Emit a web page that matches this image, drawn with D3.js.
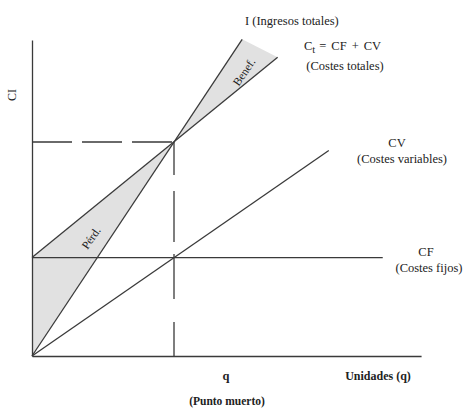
<!DOCTYPE html>
<html><head><meta charset="utf-8">
<script src="https://cdn.jsdelivr.net/npm/d3@7"></script>
<style>
html,body{margin:0;padding:0;background:#fff;}
text{font-family:"Liberation Serif","DejaVu Serif",serif;fill:#222;}
</style></head>
<body>
<svg id="c" width="464" height="408"></svg>
<script>
// Data (units: quantity q, money CI); break-even at q=10, CI=100
const xMax = 27.4, yMax = 147.7;
const breakEven = {q: 10, v: 100};
const incomeLine = [[0, 0], [14.8, 148]];          // I
const totalCostLine = [[0, 46], [17.3, 139.6]];    // Ct = CF + CV
const variableCostLine = [[0, 0], [20.9, 96]];     // CV
const fixedCostLine = [[0, 46], [24.7, 46]];       // CF
const profitArea = [[10, 100], [14.8, 148], [17.3, 139.6]];
const lossArea = [[0, 46], [10, 100], [0, 0]];

const svg = d3.select("#c");
const x = d3.scaleLinear().domain([0, 10]).range([32, 174]);
const y = d3.scaleLinear().domain([0, 100]).range([356, 142]);
const stroke = "#3a3a3a";

const line = d3.line().x(d => x(d[0])).y(d => y(d[1]));

// shaded areas
svg.append("path").attr("d", line(profitArea) + "Z").attr("fill", "#e1e1e1");
svg.append("path").attr("d", line(lossArea) + "Z").attr("fill", "#e1e1e1");

// axes
const xAxisScale = x.copy().domain([0, xMax]).range([x(0), x(xMax)]);
const yAxisScale = y.copy().domain([0, yMax]).range([y(0), y(yMax)]);
svg.append("g").attr("transform", `translate(0,${y(0)})`)
  .call(d3.axisBottom(xAxisScale).tickValues([]).tickSizeOuter(0));
svg.append("g").attr("transform", `translate(${x(0)},0)`)
  .call(d3.axisLeft(yAxisScale).tickValues([]).tickSizeOuter(0));
svg.selectAll(".domain").attr("stroke", stroke).attr("stroke-width", 1.3);

// lines
[incomeLine, totalCostLine, variableCostLine, fixedCostLine].forEach(l => {
  svg.append("path").attr("d", line(l)).attr("fill", "none")
    .attr("stroke", stroke).attr("stroke-width", 1.3);
});

// dashed guides
svg.append("path").attr("d", line([[0, breakEven.v], [breakEven.q, breakEven.v]]))
  .attr("fill", "none").attr("stroke", stroke).attr("stroke-width", 1.3)
  .attr("stroke-dasharray", "40,10");
svg.append("path").attr("d", line([[breakEven.q, breakEven.v], [breakEven.q, 0]]))
  .attr("fill", "none").attr("stroke", stroke).attr("stroke-width", 1.3)
  .attr("stroke-dasharray", "33,16,51,12,45,23,40");

// labels
function t(txt, px, py, opts = {}) {
  const e = svg.append("text").attr("x", px).attr("y", py)
    .attr("font-size", opts.size || 12.5)
    .attr("text-anchor", opts.anchor || "middle")
    .text(txt);
  if (opts.bold) e.attr("font-weight", "bold");
  if (opts.mid) e.attr("dominant-baseline", "central");
  if (opts.rot !== undefined) e.attr("transform", `rotate(${opts.rot},${px},${py})`);
  return e;
}
t("I (Ingresos totales)", 245, 25, {anchor: "start"});
const ct = svg.append("text").attr("x", 304).attr("y", 50).attr("font-size", 12.5);
ct.append("tspan").text("C");
ct.append("tspan").attr("dy", 3).attr("font-size", 10.5).text("t");
ct.append("tspan").attr("dy", -3).attr("dx", 4).text("=");
ct.append("tspan").attr("dx", 5).text("CF");
ct.append("tspan").attr("dx", 5).text("+");
ct.append("tspan").attr("dx", 5).text("CV");
t("(Costes totales)", 345, 70);
t("CV", 397, 147);
t("(Costes variables)", 402, 163);
t("CF", 426, 256);
t("(Costes fijos)", 429, 272);
t("CI", 12, 95, {rot: -90, size: 12, mid: true});
t("Benef.", 244, 72, {rot: -56, size: 11.5, mid: true});
t("Pérd.", 91, 238, {rot: -55, size: 11.5, mid: true});
t("q", 226, 380, {bold: true, size: 12.5});
t("Unidades (q)", 378, 380, {bold: true, size: 12});
t("(Punto muerto)", 227, 405, {bold: true, size: 11.5});
</script>
</body></html>
